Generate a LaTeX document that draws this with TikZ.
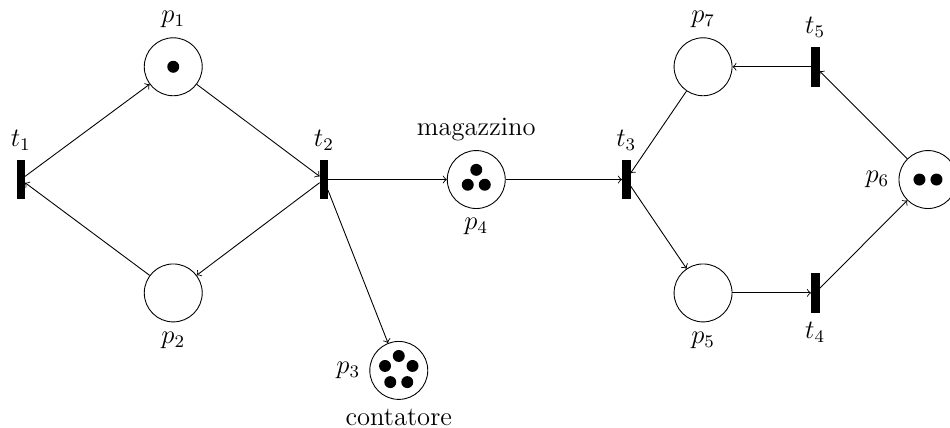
\documentclass[12pt,tikz,border=0pt]{standalone}
\usetikzlibrary{petri}

\begin{document}
\begin{tikzpicture}[>=to,
    place/.style={circle, draw, thin, inner sep=0pt, minimum size=9.2mm},
    transition/.style={rectangle, draw, fill=black, inner sep=0pt,
                       minimum width=1.2mm, minimum height=6.1mm},
    every token/.style={minimum size=1.9mm},
    token distance=2.7mm]
  \useasboundingbox (0,0) rectangle (15.08,6.79);

  % left loop: t1 -> p1 -> t2 -> p2 -> t1
  \node[transition, label=above:$t_1$] (t1) at (0.33,3.94) {};
  \node[place, tokens=1, label=above:$p_1$] (p1) at (2.75,5.73) {};
  \node[place, label=below:$p_2$] (p2) at (2.75,2.14) {};
  \node[transition, label=above:$t_2$] (t2) at (5.14,3.94) {};

  % buffer and counter
  \node[place, tokens=3, label=above:magazzino, label=below:$p_4$] (p4) at (7.56,3.94) {};
  \node[place, tokens=5, label=left:$p_3$, label=below:contatore] (p3) at (6.33,0.91) {};

  % right loop: t3 -> p5 -> t4 -> p6 -> t5 -> p7 -> t3
  \node[transition, label=above:$t_3$] (t3) at (9.94,3.94) {};
  \node[place, label=above:$p_7$] (p7) at (11.16,5.73) {};
  \node[place, label=below:$p_5$] (p5) at (11.16,2.14) {};
  \node[transition, label=above:$t_5$] (t5) at (12.94,5.73) {};
  \node[transition, label=below:$t_4$] (t4) at (12.94,2.14) {};
  \node[place, tokens=2, label=left:$p_6$] (p6) at (14.73,3.94) {};

  % arcs
  \draw[->] (t1) -- (p1);
  \draw[->] (p1) -- (t2);
  \draw[->] (t2) -- (p2);
  \draw[->] (p2) -- (t1);
  \draw[->] (t2) -- (p4);
  \draw[->] (t2) -- (p3);
  \draw[->] (p4) -- (t3);
  \draw[->] (p7) -- (t3);
  \draw[->] (t3) -- (p5);
  \draw[->] (p5) -- (t4);
  \draw[->] (t4) -- (p6);
  \draw[->] (p6) -- (t5);
  \draw[->] (t5) -- (p7);
\end{tikzpicture}
\end{document}
